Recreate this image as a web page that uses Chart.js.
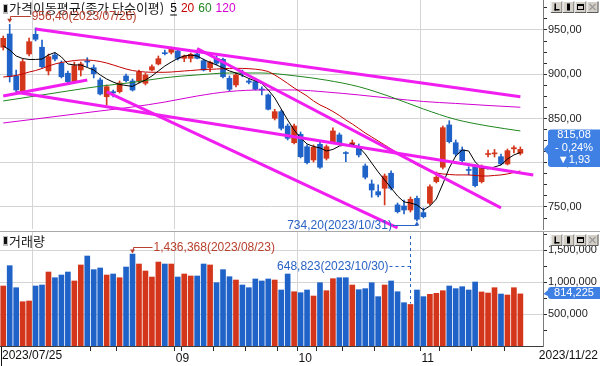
<!DOCTYPE html>
<html lang="ko">
<head>
<meta charset="utf-8">
<title>가격이동평균 / 거래량</title>
<script src="https://cdn.jsdelivr.net/npm/chart.js@4.4.1/dist/chart.umd.min.js"></script>
<style>
  html, body { margin:0; padding:0; background:#ffffff; overflow:hidden; }
  #wrap { position:relative; width:600px; height:366px; background:#fff; }
  #priceCanvas { position:absolute; left:0; top:0; }
  #volCanvas { position:absolute; left:0; top:231px; }
</style>
</head>
<body>
<div id="wrap">
  <canvas id="priceCanvas" width="600" height="231"></canvas>
  <canvas id="volCanvas" width="600" height="135"></canvas>
</div>
<script>
// ---------------- DATA ----------------
const dates = ['2023/07/25','2023/07/26','2023/07/27','2023/07/28','2023/07/31',
'2023/08/01','2023/08/02','2023/08/03','2023/08/04','2023/08/07','2023/08/08','2023/08/09','2023/08/10','2023/08/11','2023/08/14','2023/08/16','2023/08/17','2023/08/18','2023/08/21','2023/08/22','2023/08/23','2023/08/24','2023/08/25','2023/08/28','2023/08/29','2023/08/30','2023/08/31',
'2023/09/01','2023/09/04','2023/09/05','2023/09/06','2023/09/07','2023/09/08','2023/09/11','2023/09/12','2023/09/13','2023/09/14','2023/09/15','2023/09/18','2023/09/19','2023/09/20','2023/09/21','2023/09/22','2023/09/25','2023/09/26','2023/09/27',
'2023/10/04','2023/10/05','2023/10/06','2023/10/10','2023/10/11','2023/10/12','2023/10/13','2023/10/16','2023/10/17','2023/10/18','2023/10/19','2023/10/20','2023/10/23','2023/10/24','2023/10/25','2023/10/26','2023/10/27','2023/10/30','2023/10/31',
'2023/11/01','2023/11/02','2023/11/03','2023/11/06','2023/11/07','2023/11/08','2023/11/09','2023/11/10','2023/11/13','2023/11/14','2023/11/15','2023/11/16','2023/11/17','2023/11/20','2023/11/21','2023/11/22'];
const futureSlots = 3;

const opens = [930.5,945.5,898.0,881.0,922.9,945.1,930.5,903.7,921.8,912.4,
901.1,891.6,904.8,915.0,907.4,893.5,874.6,880.3,880.3,898.0,
892.4,892.4,889.8,904.8,911.6,924.3,924.8,926.3,918.0,918.0,
922.9,915.3,907.4,918.0,916.9,895.4,887.9,901.7,892.4,891.6,
883.3,876.6,850.2,857.7,841.5,822.6,832.1,818.1,803.1,820.8,
805.0,823.8,831.4,811.5,821.5,818.1,796.3,776.0,767.3,771.1,
788.1,752.3,751.1,746.6,759.8,743.6,754.2,778.6,794.9,842.7,
822.6,814.4,792.3,795.5,778.6,809.3,810.0,806.8,798.6,815.7,810.7];
const highs = [943.2,956.4,904.8,917.2,941.0,952.3,938.7,922.9,924.0,915.0,
903.7,913.8,913.8,918.7,910.5,895.8,887.9,882.2,892.4,900.3,
894.6,904.8,901.4,910.5,920.6,927.4,930.8,928.5,921.7,924.0,
925.1,917.2,915.0,920.6,918.4,898.0,901.4,904.8,894.6,893.5,
885.9,877.7,860.4,859.6,843.8,843.8,834.7,820.1,820.1,823.4,
820.1,839.3,833.6,812.5,825.7,821.2,798.6,780.5,774.9,787.3,
790.7,754.5,757.9,761.3,762.4,748.9,774.9,789.5,841.5,847.5,
825.7,817.8,795.5,797.5,797.5,814.4,815.0,809.9,815.5,819.0,817.8];
const lows = [927.4,891.2,879.9,879.9,920.6,937.6,907.1,899.2,915.0,895.8,
890.1,890.1,898.0,908.5,895.8,876.6,865.3,874.3,878.8,891.2,
881.0,890.1,887.9,903.7,910.5,921.7,922.9,916.1,914.2,913.8,
917.2,903.7,902.9,910.5,895.8,881.0,885.6,897.2,889.0,882.2,
876.6,859.6,848.3,837.0,825.7,821.2,805.4,798.6,800.8,793.7,
803.1,822.3,820.1,801.2,818.9,806.5,781.6,761.0,761.3,752.3,
769.2,743.2,742.1,744.3,734.2,737.6,752.3,777.1,792.9,822.3,
807.6,800.8,786.2,772.6,777.1,806.5,806.5,797.5,797.5,811.0,808.8];
const closes = [940.6,897.2,882.2,914.2,936.8,939.5,908.5,919.8,917.2,897.2,
891.6,909.7,911.6,913.8,900.6,877.7,885.9,878.8,890.1,892.7,
882.2,902.2,899.2,908.5,917.6,923.2,929.3,918.0,920.6,922.5,
918.0,904.8,913.5,912.4,897.2,883.0,899.2,900.3,890.9,883.0,
882.2,860.4,857.7,838.9,827.6,841.5,806.8,800.1,817.5,794.9,
818.1,835.9,822.0,810.4,822.6,808.8,783.6,769.2,763.6,785.0,
771.1,744.7,746.6,758.7,736.1,739.0,772.9,783.6,839.6,823.8,
809.9,802.3,791.3,774.1,794.9,810.4,811.1,798.6,813.6,817.01,815.08];
const volumes = [937500,1255000,911000,692000,703000,937500,953000,1156000,1067000,1109000,
1156000,1016000,1266000,1406000,1193000,1219000,1109000,1125000,1067000,1234000,
1436368,1281000,1172000,1078000,1312000,1281000,1281000,1078000,1125000,1094000,
1094000,1281000,1266000,989000,1193000,1083000,1031000,953000,911000,1047000,
1016000,1047000,1031000,875000,1125000,848000,833000,875000,781000,989000,
864000,1052000,1067000,1067000,953000,880000,896000,989000,771000,953000,
1016000,848000,677000,648823,875000,771000,807000,823000,864000,937500,
896000,927000,875000,1000000,844000,828000,911000,812000,797000,911000,814225];

// moving averages
const ma5 = [931.9,927.4,920.6,917.8,916.7,916.7,917.2,921.8,924.6,919.5,
911.6,910.5,910.5,907.6,904.8,899.2,894.6,891.2,888.4,887.3,
886.2,890.1,893.5,898.0,903.7,909.3,913.8,917.8,920.6,921.7,
920.6,916.7,913.3,910.5,907.1,903.7,901.4,898.6,895.2,892.4,
889.6,882.2,873.2,860.7,848.3,837.0,828.0,821.2,818.4,816.7,
813.3,815.0,818.9,820.1,821.2,817.8,809.9,799.7,789.6,780.5,
771.5,762.4,755.7,754.5,752.3,746.6,751.1,759.0,776.0,794.1,
807.6,814.4,813.3,800.9,794.1,793.0,795.2,797.5,804.2,808.8,811.6];
const ma20 = [896.9,897.5,898.6,900.3,902.5,904.2,906.5,909.3,911.6,913.3,
914.4,915.5,916.1,916.1,915.5,914.4,912.7,910.5,908.2,905.9,
904.2,903.1,902.5,902.2,902.2,902.2,902.5,903.1,903.7,904.2,
904.8,905.4,905.6,905.9,906.3,906.6,906.7,906.6,906.3,905.7,
904.8,903.1,899.2,894.6,889.6,884.5,879.9,875.4,869.8,865.3,
861.9,857.9,853.4,848.3,843.8,838.7,833.6,829.1,824.6,820.1,
815.5,811.0,807.1,802.0,797.5,794.1,790.1,788.4,787.3,786.7,
786.2,786.2,786.2,785.6,785.0,785.0,785.6,786.2,787.3,789.0,790.7];
const ma60At = [0,5,10,15,20,25,30,35,40,45,50,55,60,65,70,75,80];
const ma60 = [869.8,875.4,881.1,886.5,890.7,896.1,899.2,901.4,901.4,898.3,893.3,885.9,874.3,860.7,848.9,841.5,835.9];
const ma120At = [0,5,10,15,20,25,30,35,40,45,50,55,60,65,70,75,80];
const ma120 = [844.9,849.4,854.0,858.5,863.0,868.6,875.4,880.5,882.2,882.2,879.9,876.6,872.8,869.2,867.0,864.7,862.7];

// hand-drawn trend lines (index, price)
const trendStartIdx = [5, 0, 2, 16, 30];
const trendStartVal = [951.1, 875.4, 879.6, 880.0, 929.1];
const trendEndIdx   = [80, 13, 82, 61, 77];
const trendEndVal   = [874.6, 893.5, 786.2, 726.3, 748.9];

// axes / tick labels
const priceTicks = [750, 800, 850, 900, 950];
const priceMinor = 12.5;
const priceMin = 725.1, priceMax = 983.9;
const volTicks = [500000, 1000000, 1500000];
const volMinor = 250000;
const volMax = 1781250;
const xTickLabels = ['09', '10', '11'];
const maPeriods = [5, 20, 60, 120];
const priceTitle = '가격이동평균(종가 단순이평)';
const volTitle = '거래량';

// ---------------- STYLE ----------------
const UP = '#d4361c', DOWN = '#2063c8';
const GRID = '#d4d4d4';
const AXIS_TEXT = '#1e1e1e';
const TREND = '#f01ef0';
const TAG = '#3f80e4';
const HI_TEXT = '#b8402e';
const LO_TEXT = '#2a63c4';
const MA_COLORS = ['#000000', '#c40000', '#1f861f', '#d200d2'];
const FONT = '"Liberation Sans", "Noto Sans CJK KR", "DejaVu Sans", sans-serif';
const KFONT = '"Noto Sans CJK KR", "Liberation Sans", sans-serif';
Chart.defaults.font.family = FONT;
Chart.defaults.font.size = 11;
Chart.defaults.color = AXIS_TEXT;

// ---------------- DERIVED ----------------
const nSlots = dates.length + futureSlots;
const labels = dates.concat(Array.from({length: futureSlots}, () => ''));
const candleColors = closes.map((c, i) => c >= opens[i] ? UP : DOWN);
const bodies = opens.map((o, i) => [o, closes[i]]);
const wicks = lows.map((l, i) => [l, highs[i]]);
function sparse(idx, vals) { const a = new Array(nSlots).fill(null); idx.forEach((k, j) => { a[k] = vals[j]; }); return a; }

const monthStart = new Set();
dates.forEach((d, i) => { if (i > 0 && d.slice(5, 7) !== dates[i - 1].slice(5, 7)) monthStart.add(i); });
const dayNum = d => Date.UTC(+d.slice(0, 4), +d.slice(5, 7) - 1, +d.slice(8, 10)) / 86400000;
const weekKey = d => Math.floor((dayNum(d) + 3) / 7);
const monthWeeks = new Set([...monthStart].map(i => weekKey(dates[i])));
const tickMarks = new Set(monthStart);
dates.forEach((d, i) => { if (i > 0 && weekKey(d) !== weekKey(dates[i - 1]) && !monthWeeks.has(weekKey(d))) tickMarks.add(i); });

const priceTickValues = [];
for (let v = priceTicks[0] - priceMinor; v <= priceMax; v += priceMinor) if (v >= priceMin) priceTickValues.push(v);
const volTickValues = [];
for (let v = volMinor; v <= volMax; v += volMinor) volTickValues.push(v);

const fmtPrice = v => v.toFixed(2).replace('.', ',');
const fmtVol = v => Math.round(v).toLocaleString('en-US');

function lineDs(label, data, color, width, order, extra) {
  return Object.assign({ type: 'line', label, data, borderColor: color, backgroundColor: color,
    borderWidth: width, pointRadius: 0, pointHoverRadius: 0, fill: false, tension: 0, order, spanGaps: true }, extra || {});
}
function noPad(s) { s.paddingTop = 0; s.paddingBottom = 0; s.paddingLeft = 0; s.paddingRight = 0; }

// ---------------- DRAW HELPERS ----------------
function drawPanelIcon(ctx, x, y) {
  ctx.fillStyle = '#bdbdbd'; ctx.fillRect(x, y, 5, 10);
  ctx.fillStyle = '#111111'; ctx.fillRect(x + 1, y + 1, 3, 7);
}
function drawButtons(ctx, y) {
  const x0 = 550.5;
  for (let k = 0; k < 4; k++) {
    const x = x0 + k * 12;
    ctx.fillStyle = '#d4d0c8'; ctx.fillRect(x, y, 12, 12);
    ctx.lineWidth = 1;
    ctx.strokeStyle = '#ffffff'; ctx.beginPath(); ctx.moveTo(x + 0.5, y + 11.5); ctx.lineTo(x + 0.5, y + 0.5); ctx.lineTo(x + 11.5, y + 0.5); ctx.stroke();
    ctx.strokeStyle = '#5a5a5a'; ctx.beginPath(); ctx.moveTo(x + 11.5, y + 0.5); ctx.lineTo(x + 11.5, y + 11.5); ctx.lineTo(x + 0.5, y + 11.5); ctx.stroke();
  }
  ctx.fillStyle = '#000';
  ctx.fillRect(x0 + 4, y + 2.5, 1.5, 7); ctx.fillRect(x0 + 4, y + 8, 5, 1.5);
  ctx.fillRect(x0 + 12 + 4.5, y + 2.5, 3, 7);
  ctx.strokeStyle = '#000'; ctx.strokeRect(x0 + 24 + 3, y + 3.5, 6, 5); ctx.fillRect(x0 + 24 + 2.5, y + 3, 7, 2);
  ctx.strokeStyle = '#9a9a9a'; ctx.lineWidth = 1.3; ctx.beginPath();
  ctx.moveTo(x0 + 36 + 3, y + 3); ctx.lineTo(x0 + 36 + 9, y + 9); ctx.moveTo(x0 + 36 + 9, y + 3); ctx.lineTo(x0 + 36 + 3, y + 9); ctx.stroke();
  ctx.lineWidth = 1;
}
function drawTag(ctx, yTip, top, bottom, notch) {
  const xl = 548, xr = 601, r = 3;
  ctx.beginPath();
  ctx.moveTo(xl + r, top);
  ctx.lineTo(xr, top); ctx.lineTo(xr, bottom); ctx.lineTo(xl + r, bottom);
  ctx.arcTo(xl, bottom, xl, bottom - r, r);
  ctx.lineTo(xl, Math.min(bottom - r, yTip + notch));
  ctx.lineTo(xl - 4.5, yTip);
  ctx.lineTo(xl, Math.max(top + r, yTip - notch));
  ctx.lineTo(xl, top + r);
  ctx.arcTo(xl, top, xl + r, top, r);
  ctx.closePath();
  ctx.fillStyle = TAG; ctx.fill();
}

// ---------------- PRICE PANEL ----------------
const pricePlugin = {
  id: 'pricePanel',
  afterDraw(chart) {
    const { ctx } = chart; const xs = chart.scales.x, ys = chart.scales.y;
    ctx.save();
    drawPanelIcon(ctx, 3, 4);
    ctx.textAlign = 'left'; ctx.textBaseline = 'middle';
    ctx.font = '13px ' + KFONT;
    ctx.fillStyle = '#1a1a1a';
    ctx.fillText(priceTitle, 9, 8.5);
    let lx = 9 + ctx.measureText(priceTitle).width + 6;
    ctx.font = '12px ' + FONT;
    maPeriods.forEach((p, k) => {
      const t = String(p);
      ctx.fillStyle = MA_COLORS[k];
      ctx.fillText(t, lx, 9);
      const w = ctx.measureText(t).width;
      if (k === 0) ctx.fillRect(lx, 14.5, w, 1);
      lx += w + 4;
    });
    drawButtons(ctx, 1);

    // highest high
    let hi = 0; highs.forEach((h, i) => { if (h > highs[hi]) hi = i; });
    const hx = xs.getPixelForValue(hi), hy = ys.getPixelForValue(highs[hi]);
    ctx.strokeStyle = HI_TEXT; ctx.fillStyle = HI_TEXT; ctx.lineWidth = 1;
    const hly = Math.round(hy - 8) + 0.5;
    ctx.beginPath(); ctx.moveTo(Math.round(hx) + 0.5, hy - 5); ctx.lineTo(Math.round(hx) + 0.5, hly); ctx.lineTo(hx + 21, hly); ctx.stroke();
    ctx.beginPath(); ctx.moveTo(hx - 2.5, hy - 5.5); ctx.lineTo(hx + 2.5, hy - 5.5); ctx.lineTo(hx, hy - 1.5); ctx.closePath(); ctx.fill();
    ctx.font = '12px ' + FONT; ctx.textAlign = 'left';
    ctx.fillText(fmtPrice(highs[hi]) + '(' + dates[hi] + ')', hx + 22, hly);

    // lowest low
    let lo = 0; lows.forEach((l, i) => { if (l < lows[lo]) lo = i; });
    const lxp = xs.getPixelForValue(lo), lyp = ys.getPixelForValue(lows[lo]);
    ctx.strokeStyle = LO_TEXT; ctx.fillStyle = LO_TEXT;
    const lly = Math.round(lyp + 4.5) + 0.5;
    ctx.beginPath(); ctx.moveTo(Math.round(lxp) + 0.5, lyp + 4); ctx.lineTo(Math.round(lxp) + 0.5, lly); ctx.lineTo(lxp - 24, lly); ctx.stroke();
    ctx.beginPath(); ctx.moveTo(lxp - 2.5, lyp + 4.5); ctx.lineTo(lxp + 2.5, lyp + 4.5); ctx.lineTo(lxp, lyp + 0.5); ctx.closePath(); ctx.fill();
    ctx.textAlign = 'right';
    ctx.fillText(fmtPrice(lows[lo]) + '(' + dates[lo] + ')', lxp - 25, lly);

    // current price tag
    const last = closes[closes.length - 1], prev = closes[closes.length - 2];
    const diff = last - prev, pct = diff / prev * 100;
    const yp = ys.getPixelForValue(last);
    drawTag(ctx, yp, yp - 20, yp + 17.5, 5);
    ctx.fillStyle = '#ffffff'; ctx.textAlign = 'center'; ctx.font = '11px ' + FONT;
    ctx.fillText(fmtPrice(last), 574, yp - 14);
    ctx.fillText((diff < 0 ? '- ' : '+ ') + fmtPrice(Math.abs(pct)) + '%', 574, yp - 1.5);
    ctx.fillText((diff < 0 ? '▼' : '▲') + fmtPrice(Math.abs(diff)), 574, yp + 11);
    ctx.restore();
  }
};

const priceChart = new Chart(document.getElementById('priceCanvas'), {
  type: 'bar',
  data: {
    labels,
    datasets: [
      ...trendStartIdx.map((s, k) => lineDs('추세선' + (k + 1), sparse([s, trendEndIdx[k]], [trendStartVal[k], trendEndVal[k]]), TREND, 3, 0)),
      lineDs('MA5', ma5, MA_COLORS[0], 1, 1),
      lineDs('MA20', ma20, MA_COLORS[1], 1, 2),
      lineDs('MA60', sparse(ma60At, ma60), MA_COLORS[2], 1, 3, { cubicInterpolationMode: 'monotone' }),
      lineDs('MA120', sparse(ma120At, ma120), MA_COLORS[3], 1, 4, { cubicInterpolationMode: 'monotone' }),
      { type: 'bar', label: '몸통', data: bodies, backgroundColor: candleColors, barThickness: 5, grouped: false, minBarLength: 1, order: 5 },
      { type: 'bar', label: '꼬리', data: wicks, backgroundColor: candleColors, barThickness: 1, grouped: false, order: 6 }
    ]
  },
  options: {
    responsive: false, animation: false, devicePixelRatio: 1, events: [],
    layout: { padding: { top: 0, bottom: 2, left: 0, right: 0 }, autoPadding: false },
    plugins: { legend: { display: false }, tooltip: { enabled: false } },
    scales: {
      x: { type: 'category', offset: true, afterFit(s) { s.height = 0; noPad(s); },
        grid: { offset: true, drawTicks: false, color: c => monthStart.has(c.index) ? GRID : 'rgba(0,0,0,0)' },
        border: { display: false }, ticks: { display: false, autoSkip: false } },
      y: { position: 'right', min: priceMin, max: priceMax, afterFit(s) { s.width = 57; noPad(s); },
        afterBuildTicks(s) { s.ticks = priceTickValues.map(v => ({ value: v })); },
        grid: { color: c => (c.tick && priceTicks.includes(c.tick.value)) ? GRID : 'rgba(0,0,0,0)', tickColor: '#2a2a2a', tickLength: 4, drawTicks: true },
        border: { display: true, color: '#7a7a7a' },
        ticks: { autoSkip: false, padding: 1, font: { size: 11 }, color: AXIS_TEXT, callback: v => priceTicks.includes(v) ? fmtPrice(v) : '' } }
    }
  },
  plugins: [pricePlugin]
});

// ---------------- VOLUME PANEL ----------------
const volPlugin = {
  id: 'volPanel',
  afterDraw(chart) {
    const { ctx } = chart; const xs = chart.scales.x, ys = chart.scales.y;
    ctx.save();
    ctx.strokeStyle = '#a8a8a8'; ctx.lineWidth = 1;
    ctx.beginPath(); ctx.moveTo(0, 0.5); ctx.lineTo(600, 0.5); ctx.stroke();
    drawPanelIcon(ctx, 3, 5);
    ctx.font = '13px ' + KFONT; ctx.textAlign = 'left'; ctx.textBaseline = 'middle'; ctx.fillStyle = '#1a1a1a';
    ctx.fillText(volTitle, 9, 10);
    drawButtons(ctx, 3);

    // max volume
    ctx.font = '12px ' + FONT;
    let mx = 0; volumes.forEach((v, i) => { if (v > volumes[mx]) mx = i; });
    const mxp = xs.getPixelForValue(mx), myp = ys.getPixelForValue(volumes[mx]);
    ctx.strokeStyle = HI_TEXT; ctx.fillStyle = HI_TEXT;
    const mly = Math.round(myp - 7) + 0.5;
    ctx.beginPath(); ctx.moveTo(Math.round(mxp) + 0.5, myp - 4); ctx.lineTo(Math.round(mxp) + 0.5, mly); ctx.lineTo(mxp + 20, mly); ctx.stroke();
    ctx.beginPath(); ctx.moveTo(mxp - 2.5, myp - 4.5); ctx.lineTo(mxp + 2.5, myp - 4.5); ctx.lineTo(mxp, myp - 0.5); ctx.closePath(); ctx.fill();
    ctx.textAlign = 'left';
    ctx.fillText(fmtVol(volumes[mx]) + '(' + dates[mx] + ')', mxp + 21, mly);

    // min volume
    let mn = 0; volumes.forEach((v, i) => { if (v < volumes[mn]) mn = i; });
    const mnp = xs.getPixelForValue(mn), mnyp = ys.getPixelForValue(volumes[mn]);
    ctx.strokeStyle = LO_TEXT; ctx.fillStyle = LO_TEXT;
    const nly = Math.round(mnyp - 38.5) + 0.5;
    const vx = Math.round(mnp) + 0.5;
    ctx.setLineDash([3, 3]);
    ctx.beginPath(); ctx.moveTo(vx, 5); ctx.lineTo(vx, mnyp - 1); ctx.stroke();
    ctx.beginPath(); ctx.moveTo(mnp - 21, nly); ctx.lineTo(vx, nly); ctx.stroke();
    ctx.setLineDash([]);
    ctx.textAlign = 'right';
    ctx.fillText(fmtVol(volumes[mn]) + '(' + dates[mn] + ')', mnp - 22, nly);

    // last volume tag
    const lastV = volumes[volumes.length - 1];
    const yv = ys.getPixelForValue(lastV);
    drawTag(ctx, yv, yv - 7, yv + 5, 4);
    ctx.fillStyle = '#ffffff'; ctx.textAlign = 'center'; ctx.font = '11px ' + FONT;
    ctx.fillText(fmtVol(lastV), 574, yv - 1);

    // corner date labels
    const bottom = chart.chartArea.bottom;
    ctx.font = '12px ' + FONT; ctx.textBaseline = 'middle';
    ctx.fillStyle = '#ffffff'; ctx.fillRect(1, bottom + 1, 62, 19);
    ctx.fillStyle = '#111'; ctx.textAlign = 'left';
    ctx.fillText(dates[0], 2, bottom + 10);
    ctx.strokeStyle = '#111'; ctx.beginPath(); ctx.moveTo(1.5, bottom + 1); ctx.lineTo(1.5, bottom + 20); ctx.stroke();
    ctx.textAlign = 'right';
    ctx.fillText(dates[dates.length - 1], 598, bottom + 10);
    ctx.restore();
  }
};

const volChart = new Chart(document.getElementById('volCanvas'), {
  type: 'bar',
  data: {
    labels,
    datasets: [{ label: volTitle, data: volumes, backgroundColor: candleColors, barThickness: 5, order: 1 }]
  },
  options: {
    responsive: false, animation: false, devicePixelRatio: 1, events: [],
    layout: { padding: { top: 1, bottom: 0, left: 0, right: 0 }, autoPadding: false },
    plugins: { legend: { display: false }, tooltip: { enabled: false } },
    scales: {
      x: { type: 'category', offset: true, afterFit(s) { s.height = 20; noPad(s); },
        grid: { offset: true, tickLength: 5, color: c => monthStart.has(c.index) ? GRID : 'rgba(0,0,0,0)',
          tickColor: c => tickMarks.has(c.index) ? '#2a2a2a' : 'rgba(0,0,0,0)' },
        border: { display: true, color: '#3c3c3c' },
        ticks: { autoSkip: false, maxRotation: 0, minRotation: 0, align: 'start', labelOffset: -2, padding: 0,
          font: { size: 12 }, color: '#111',
          callback: (v, i) => (monthStart.has(i) && xTickLabels.includes(dates[i].slice(5, 7))) ? dates[i].slice(5, 7) : '' } },
      y: { position: 'right', min: 0, max: volMax, afterFit(s) { s.width = 57; noPad(s); },
        afterBuildTicks(s) { s.ticks = volTickValues.map(v => ({ value: v })); },
        grid: { color: c => (c.tick && volTicks.includes(c.tick.value)) ? GRID : 'rgba(0,0,0,0)', tickColor: '#2a2a2a', tickLength: 4, drawTicks: true },
        border: { display: true, color: '#7a7a7a' },
        ticks: { autoSkip: false, padding: 1, font: { size: 11 }, color: AXIS_TEXT, callback: v => volTicks.includes(v) ? fmtVol(v) : '' } }
    }
  },
  plugins: [volPlugin]
});
</script>
</body>
</html>
